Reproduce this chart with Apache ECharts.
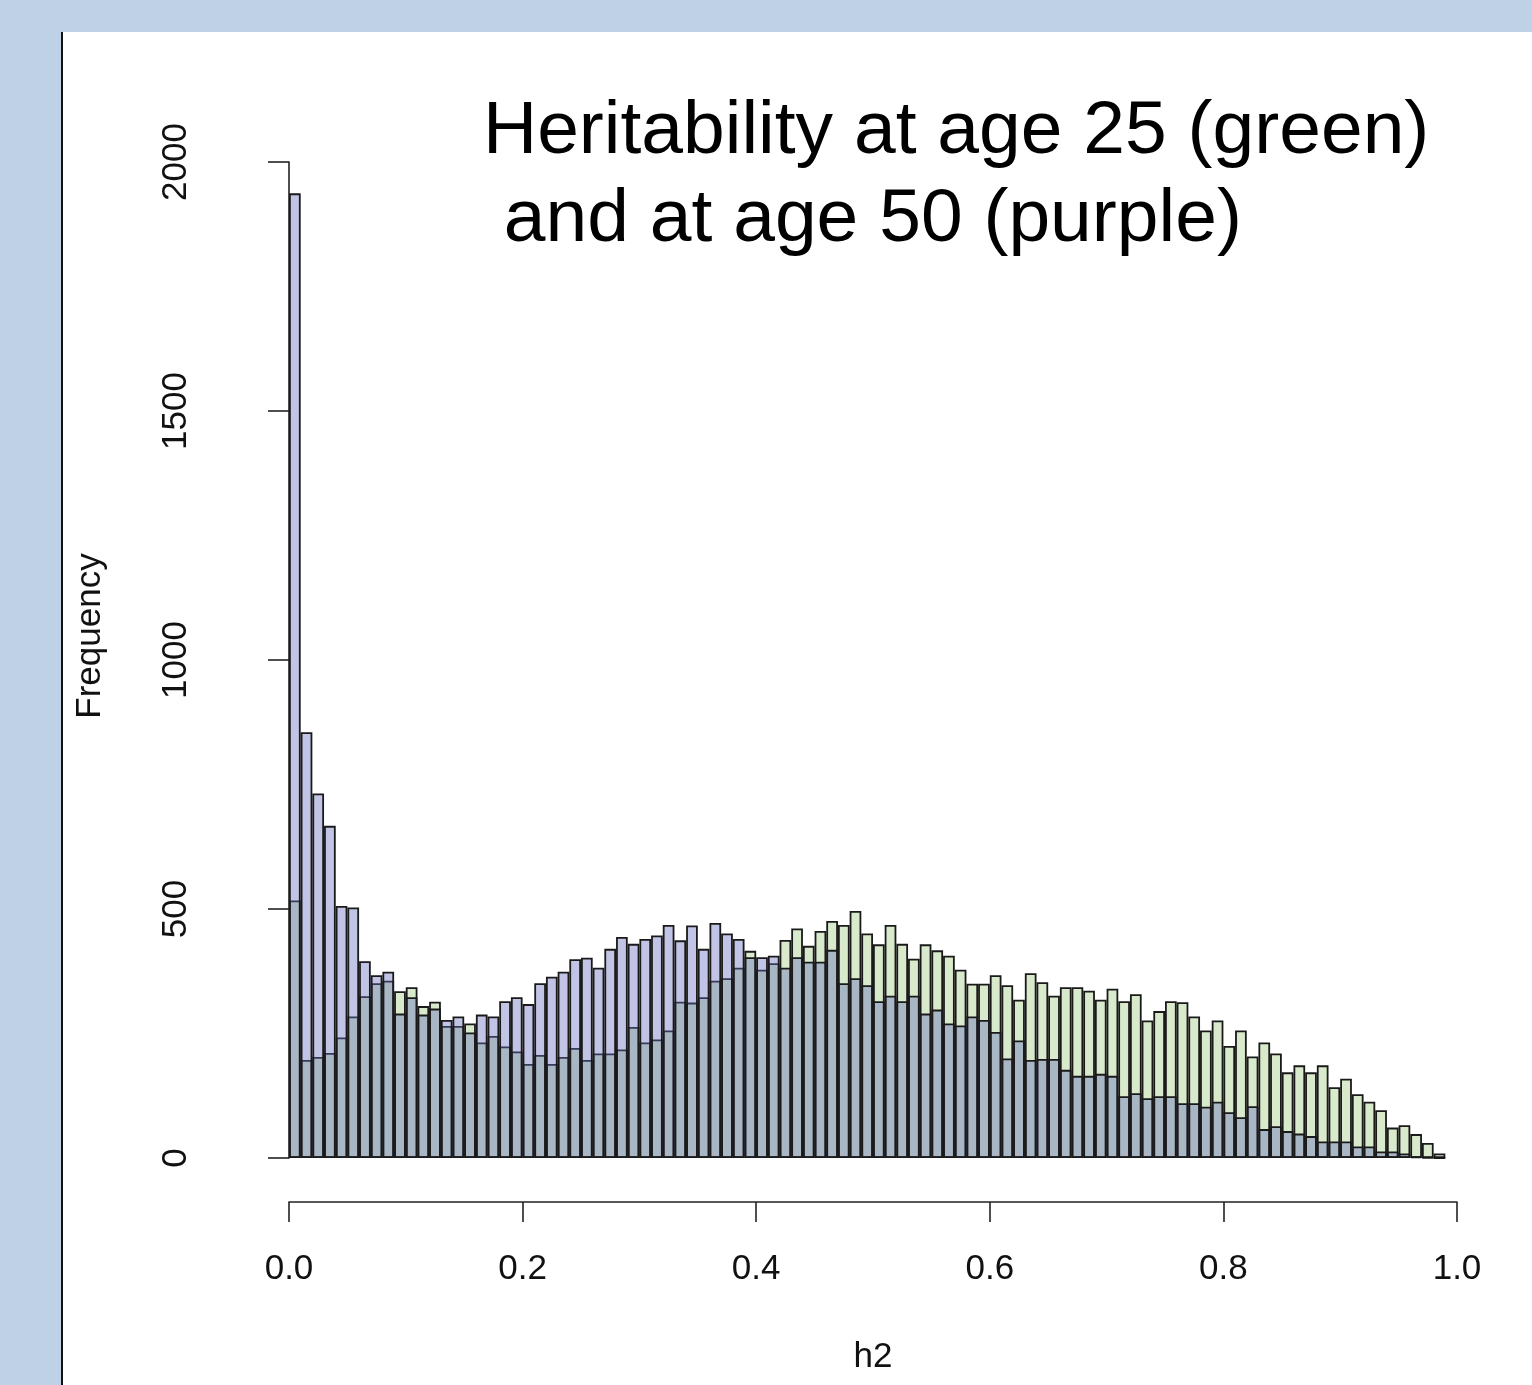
<!DOCTYPE html>
<html>
<head>
<meta charset="utf-8">
<script src="https://cdn.jsdelivr.net/npm/echarts@6/dist/echarts.min.js"></script>
<style>
  html, body { margin: 0; padding: 0; width: 1532px; height: 1385px; overflow: hidden; background: #bfd1e6; }
  #panel { position: absolute; left: 61px; top: 32px; width: 1471px; height: 1353px; background: #ffffff; border-left: 2px solid #111; box-sizing: border-box; }
  #chart { position: absolute; left: 0; top: 0; width: 1532px; height: 1385px; }
</style>
</head>
<body>
<div id="panel"></div>
<div id="chart"></div>
<script>
// Histogram bins: 100 bins of width 0.01 on h2 in [0, 1]
const binStarts = [];
for (let i = 0; i < 100; i++) binStarts.push((i / 100).toFixed(2));

// Frequency at age 25 (green); last bin (0.99-1.00) has no bar
const age25 = [
  517, 197, 203, 211, 242, 284, 325, 351, 356, 335,
  343, 305, 314, 265, 265, 270, 232, 245, 224, 214,
  189, 207, 189, 203, 221, 197, 210, 210, 218, 263,
  232, 238, 256, 314, 312, 323, 356, 361, 382, 416,
  378, 391, 438, 461, 426, 456, 476, 468, 496, 451,
  429, 468, 430, 400, 429, 417, 406, 378, 350, 350,
  367, 347, 318, 371, 353, 326, 343, 343, 336, 318,
  340, 315, 329, 276, 295, 315, 313, 284, 256, 276,
  225, 256, 204, 232, 210, 172, 186, 172, 186, 142,
  159, 128, 113, 96, 61, 66, 48, 30, 9, null
];

// Frequency at age 50 (purple)
const age50 = [
  1937, 855, 732, 667, 506, 503, 395, 367, 374, 290,
  323, 288, 300, 277, 284, 252, 288, 284, 315, 323,
  309, 351, 364, 374, 399, 402, 382, 420, 444, 430,
  440, 447, 468, 437, 467, 420, 472, 451, 440, 403,
  403, 406, 382, 403, 394, 394, 418, 351, 361, 347,
  315, 326, 315, 326, 290, 298, 270, 266, 284, 277,
  253, 200, 236, 197, 199, 199, 177, 165, 165, 169,
  165, 124, 130, 120, 124, 124, 110, 110, 103, 113,
  92, 82, 104, 58, 64, 54, 49, 44, 33, 33,
  33, 23, 23, 13, 13, 9, 3, 1, 0, null
];

const xTickLabels = ['0.0', '0.2', '0.4', '0.6', '0.8', '1.0'];
const yTicks = [0, 500, 1000, 1500, 2000];

const FONT = "'Liberation Sans', Arial, Helvetica, sans-serif";
const AXIS_COLOR = '#222';

const chart = echarts.init(document.getElementById('chart'), null, { renderer: 'canvas' });

chart.setOption({
  backgroundColor: 'transparent',
  animation: false,
  title: {
    text: 'Heritability at age 25 (green)\n and at age 50 (purple)',
    left: 483,
    top: 88,
    padding: 0,
    textStyle: { fontFamily: FONT, fontSize: 75, fontWeight: 'normal', color: '#000', lineHeight: 88 }
  },
  grid: { left: 289, right: 75, top: 162, bottom: 227, containLabel: false },
  xAxis: [
    {
      type: 'category',
      data: binStarts,
      boundaryGap: true,
      show: false
    },
    {
      type: 'value',
      min: 0, max: 1, interval: 0.2,
      position: 'bottom',
      offset: 44,
      axisLine: { show: true, lineStyle: { color: AXIS_COLOR, width: 1.6 } },
      axisTick: { show: true, length: 20, lineStyle: { color: AXIS_COLOR, width: 1.6 } },
      splitLine: { show: false },
      axisLabel: {
        margin: 50, fontSize: 35, fontFamily: FONT, color: '#111',
        formatter: (v) => xTickLabels[Math.round(v / 0.2)]
      },
      name: 'h2',
      nameLocation: 'middle',
      nameGap: 138,
      nameTextStyle: { fontSize: 35, fontFamily: FONT, color: '#111' }
    }
  ],
  yAxis: {
    type: 'value',
    min: 0, max: 2000, interval: 500,
    offset: 47,
    axisLine: { show: true, lineStyle: { color: AXIS_COLOR, width: 1.6 } },
    axisTick: { show: true, length: 21, lineStyle: { color: AXIS_COLOR, width: 1.6 } },
    splitLine: { show: false },
    axisLabel: {
      rotate: 90, margin: 48, fontSize: 35, fontFamily: FONT, color: '#111',
      formatter: (v) => String(v)
    }
  },
  graphic: [
    {
      type: 'text',
      x: 90, y: 636,
      rotation: Math.PI / 2,
      style: {
        text: 'Frequency',
        fontSize: 35, fontFamily: FONT, fill: '#111',
        textAlign: 'center', textVerticalAlign: 'middle'
      }
    }
  ],
  series: [
    {
      name: 'age 25',
      type: 'bar',
      xAxisIndex: 0,
      data: age25,
      barCategoryGap: '0%',
      barGap: '-100%',
      itemStyle: { color: 'rgba(158, 203, 125, 0.4)', borderColor: '#1a1a1a', borderWidth: 1.8 },
      emphasis: { disabled: true }
    },
    {
      name: 'age 50',
      type: 'bar',
      xAxisIndex: 0,
      data: age50,
      barCategoryGap: '0%',
      barGap: '-100%',
      itemStyle: { color: 'rgba(100, 107, 188, 0.4)', borderColor: '#1a1a1a', borderWidth: 1.8 },
      emphasis: { disabled: true }
    }
  ]
});
</script>
</body>
</html>
